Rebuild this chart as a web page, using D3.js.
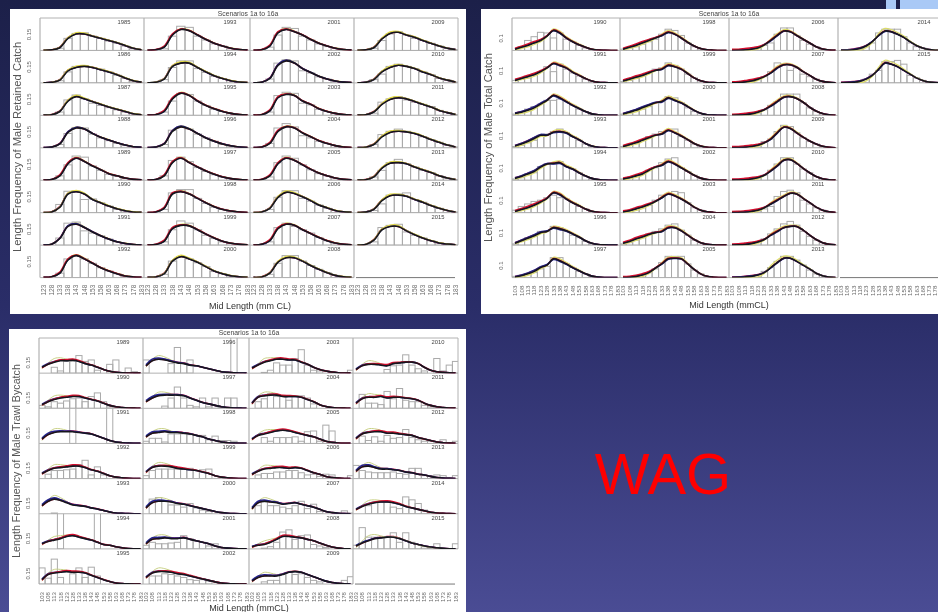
<!DOCTYPE html>
<html><head><meta charset="utf-8">
<script src="https://cdn.jsdelivr.net/npm/d3@7"></script>
<style>html,body{margin:0;padding:0;background:#1e2250;overflow:hidden}svg{display:block}text{font-family:"Liberation Sans",Arial,sans-serif}</style>
</head><body><svg id="c" width="938" height="612"></svg>
<script>
// Values are length frequencies in percent (0.15 = 15), one row per panel/year.
const retainedBins=[123,128,133,138,143,148,153,158,163,168,173,178,183];
const retainedYears=[1985,1986,1987,1988,1989,1990,1991,1992,1993,1994,1995,1996,1997,1998,1999,2000,2001,2002,2003,2004,2005,2006,2007,2008,2009,2010,2011,2012,2013,2014,2015];
const retainedBars=[
[0,0,2,11,15.5,16,13,11,8.5,6.5,4,1.5,.5],[0,0,2,10,15,15.5,14,12.5,10,7,4,1.5,.5],[0,0,3,14,18.5,15,11,9,7,5,3,1.5,.5],[0,0,3,13,18.5,18,12.5,9,6.5,4,2,1,.3],
[0,0,4,14,22,21,13,9,5.5,3.5,2,.8,.3],[0,0,7.5,19.5,19.5,12,12.5,9,6,3,1.5,.6,.2],[0,0,6.5,20,21,13,11,8.5,5.5,3,1.5,.5,.2],[0,0,4,17,20,17,13,9,6,3.5,1.5,.5,.2],
[0,0,1.5,13,22,21,13,9.5,6,4,1.5,.8,.2],[0,0,3,14,20,20,13,9.5,6,4,2,.8,.2],[0,0,3,13,20,19,13,9,5.5,3.5,1.5,.6,.2],[0,0,3,16,19,17,12.5,9,6,3,1.5,.6,.2],
[0,0,4,18,21,17,11.5,8,5,3,1.5,.6,.2],[0,0,3,18,21,21,13,8.5,5,3,1.5,.5,.2],[0,0,3,14,22,20,14,9,6,3,1.5,.6,.2],[0,0,3,15,19,17,13.5,10,5.5,3.5,1.5,.6,.2],
[0,0,3,14,21,20,13,9.5,6,3.5,2,.6,.2],[0,0,3.5,18,21,20,11,9,5.5,3.5,1.5,.6,.2],[0,0,3,18,21,20,11,9.5,5.5,3.5,1.5,.6,.2],[0,0,4,18,22,19,11,9,6,4,2,.6,.2],
[0,0,3,16,22,20,14,9.5,6,4,2,.8,.2],[0,0,3,14,20,20,13,10.5,7,4,2,.8,.2],[0,0,3,16,20,17,14,11,7,4,2,.8,.2],[0,0,3,13,20,20,15,11,7.5,4.5,2,.8,.2],
[0,0,2,9,15,17,14,11,9,6.5,4,2,.8],[0,0,3,8,15,17,15,13,10,7.5,4,2.5,.8],[0,0,2,12,15,17,14,12,10,8,4.5,2.5,.8],[0,0,3,12,15,17,15,13,10,7.5,5,2.5,.8],
[0,0,3,9,16,19,15,12,9,7,4,2,.7],[0,0,2,8,16,17,18,12,9.5,6.5,4,2,.7],[0,0,3,16,18,19,12,9,6.5,4,2,1,.4]];
const retainedFit=[
[.2,.5,2.5,11,15,15,13,11,9,7,4.5,2,.7],[.2,.5,2.5,11,14,15,14,12,10,7.5,4.5,2,.7],[.2,.6,3.5,13,17,15,12.5,10,7.5,5.5,3.5,1.5,.6],[.2,.6,3.5,14,18,17,13,9.5,7,4.5,2.5,1,.4],
[.2,.6,4,15,20,17,13,9.5,6,4,2,.8,.3],[.2,.7,5,17,19,17,12,9,6,3.5,1.8,.7,.3],[.2,.8,6,17,19,16,12,8.5,5.5,3,1.5,.6,.2],[.2,.7,4,16,20,17,13,9,6,3.5,1.5,.6,.2],
[.2,.6,3,14,19,18,14,10,6.5,4,2,.8,.3],[.2,.6,3.5,15,18,18,14,10,6.5,4,2,.8,.3],[.2,.6,3.5,15,20,18,13,9,6,3.5,1.8,.7,.3],[.2,.6,3.5,15,19,17,13,9,6,3.5,1.8,.7,.3],
[.2,.6,4,16,20,16,12,8.5,5.5,3,1.5,.6,.2],[.2,.7,4,17,19,17,13,9,5.5,3,1.5,.6,.2],[.2,.6,3.5,15,18,17.5,14,10,6.5,3.5,1.7,.7,.3],[.2,.6,3.5,15,19,17,14,10,6,3.5,1.7,.7,.3],
[.2,.6,4,16,19,17,14,10,6.5,4,2,.8,.3],[.2,.6,4,16,20,18,13,9.5,6,3.5,1.8,.7,.3],[.2,.6,4,16,19,18,13,10,6,3.5,1.8,.7,.3],[.2,.6,4,15,19,18,13.5,10,6.5,4,2,.8,.3],
[.2,.7,4,15,20,18,14,10,6.5,4,2,.8,.3],[.2,.7,4,14,18.5,17.5,14.5,11,7,4.5,2,.8,.3],[.2,.7,4,15,19,18,14,10.5,7,4,2,.8,.3],[.2,.6,4,14,18,18,15,11,7.5,4.5,2,.8,.3],
[.2,.5,2.5,10.5,15.5,16.5,14,12,9,6.5,4,2,.8],[.2,.5,3,10,14,16,15,13,10,7.5,4.5,2.5,.8],[.2,.5,3,10,14.5,16,15,12.5,10,7.5,4.5,2.5,.8],[.2,.5,3,10,14,15,14.5,13,10.5,7.5,5,2.5,.8],
[.2,.5,3,11,15.5,16,15,12,9.5,7,4,2,.7],[.2,.5,3,11,15.5,16,15,12,9.5,6.5,4,2,.7],[.2,.6,4.5,14,17,17,13,9.5,6.5,4,2,1,.4]];
const retainedAccent="yyybrybrryrbrrryrbrrryryyyyyyyy";
const retainedYellow=[0,0,.2,.6,.9,.6,.2,.3,.3,.2,.2,.1,0];
const retainedRed=[0,.1,.7,.8,.3,.1,.2,.1,.1,.1,0,0,0];
const retainedBlue=[0,0,.2,.5,.5,.2,.1,.1,0,.1,0,0,0];

const totalBins=[103,108,113,118,123,128,133,138,143,148,153,158,163,168,173,178,183];
const totalYears=[1990,1991,1992,1993,1994,1995,1996,1997,1998,1999,2000,2001,2002,2003,2004,2005,2006,2007,2008,2009,2010,2011,2012,2013,2014,2015];
const totalBars=[
[0,3,8,11,14.5,14,10,14,9,7,4,2,1,0,0,0,0],[2,3,4,7,9,13,9,15,11,8,5.5,3,1,.3,0,0,0],[1,3,5,7,9,12,12,13,11,8,5,3,1,.3,0,0,0],[1,2,4,6,10,11,13,15,12,9,6,3,1,.3,0,0,0],
[1,2,5,6,11,13,13,15,11,9,6,3,1,.3,0,0,0],[2,5,7,9,10,12,14,12,11,8,5,3,1,.3,0,0,0],[1,3,6,7,11,11,15,14,11,8,6,3,1,.3,0,0,0],[1,2,3,4,7,9,16,16,11,8,5,3,1,.3,0,0,0],
[1,2,3,5,7,9,13,17,16,12,6,3,1,.3,0,0,0],[1,2,4,6,8,11,12,16,14,11,7,4,1.5,.3,0,0,0],[1,2,4,5,7,10,11,15,14,10,6,3,1.5,.3,0,0,0],[1,2,4,6,9,11,13,14,15,9,6,3,1.5,.3,0,0,0],
[1,2,3,5,8,10,14,17,18,10,7,4,1.5,.3,0,0,0],[0,1,3,4,6,10,14,15,17,16,8,4,2,.5,0,0,0],[1,2,4,7,9,11,13,16,17,12,8,4,2,.5,0,0,0],[0,.2,.7,1.5,4,7,12,17,17,17,11,6,3,1,.2,0,0],
[0,0,.3,1,2.5,4,6,13,18,18,12,8,5,3,1,.3,0],[0,0,.5,1,3,5,9,16,15,10,12,7,5,3,1,.3,0],[0,0,.5,1,2,4.5,8,11,17,17,17,10,6,3,1,.3,0],[0,0,.3,.8,2,5,7,13,18,17,12,8,5,3,1,.3,0],
[0,0,.3,1,2,4,8,13,18,18,13,9,6,3,1,.3,0],[0,0,.3,1,1.5,3,5,13,17,18,16,10,7,4,2,.5,0],[0,0,.4,1,2,5,9,13,17,19,16,11,7,4,2,.5,0],[0,0,.4,1,2,5,8,13,17,17,14,10,6,3,1.5,.5,0],
[0,0,.5,1,3,6,14,17,17,17,11,6,3,2,.7,.2,0],[0,0,.5,1,3,7,10,17,17,18,15,6,4,2,.7,.2,0]];
const totalFit=[
[1,2.5,4,6,8,11.5,16,14,10,7,4.5,2.5,1,.3,.1,0,0],[2,3.5,5,6.5,9,12,15.5,14,12,8.5,6,3.5,1.5,.5,.2,.1,0],[1.5,2.5,4,6,9,12,16,14,11,8,5.5,3,1.2,.4,.1,0,0],[1.5,3,5,7.5,10,10,12.5,13,12,9,6.5,3.5,1.5,.5,.2,0,0],
[1.5,3,5,7,10.5,13,13.5,14,11,9,6,3.5,1.5,.5,.2,0,0],[1,2.5,4,6,8.5,11.5,16,14.5,11,8,5.5,3,1.2,.4,.1,0,0],[1.5,3.5,5.5,7.5,10,11,14,13,11.5,9,6.5,3.5,1.5,.5,.2,0,0],[.5,1.5,3,5,8,10,15,13.5,11,8,5.5,3,1.2,.4,.1,0,0],
[1,2.5,4,6,8,10,12,14.5,13,10,6.5,3.5,1.5,.5,.2,0,0],[1.5,3,4.5,6,8,10,11,14,13,11,7.5,4,1.7,.5,.2,0,0],[1,2.5,4,6,8,10,11,14,12,10,7,4,1.7,.5,.2,0,0],[1,2.5,4,6,8,10,11,14,12,9.5,6.5,3.5,1.5,.5,.2,0,0],
[1,2,3.5,5,8,10.5,12,15,13,10,7,4,1.7,.5,.2,0,0],[.6,1.5,3,4.5,6.5,9,12,15,13.5,11,8,4.5,2,.7,.2,0,0],[1.5,3,5,6.5,8.5,10,11,14,14,11.5,8,4.5,2,.7,.2,0,0],[.1,.3,.8,2,4,7.5,11,15,15.5,15,11,6.5,3,1,.3,.1,0],
[0,.1,.4,1,2,4.5,8,12,15.5,15,12,9,6,3,1.2,.4,.1],[.1,.3,.7,1.5,3,5,8,12,14.5,14.5,12.5,9,6,3,1.2,.4,.1],[.1,.2,.5,1.2,2.5,4.5,7.5,11,14.5,15,13.5,10.5,6.5,3.5,1.5,.5,.1],[.1,.2,.4,1,2,4,7,12,16.5,15.5,12,8.5,5.5,3,1.3,.4,.1],
[.1,.2,.4,1,2,4,7.5,11.5,16,16.5,13.5,9.5,6,3,1.2,.4,.1],[.1,.2,.4,1,2,4,7,10,13,15.5,15,11.5,8,4.5,2,.7,.2],[.1,.2,.5,1.2,2.5,4.5,8,11,14,15,15,12,8,4.5,2,.7,.2],[.1,.2,.5,1,2,4,8,12,15.5,15.5,13,10,7,3.5,1.5,.5,.1],
[.1,.2,.6,1.5,3.5,7,12,15.5,15,13,10.5,7,4,2,.7,.2,.1],[.1,.2,.5,1.2,3,6,11,16,15,13,10,7,4,2,.7,.2,.1]];
const totalAccent="rrbbbrbbrrbrrrrrrrrrrrryyy";
const totalYellow=[-.6,-1,-1.2,-1.2,-1,-.5,1.2,1.5,1.2,1,.8,.4,.2,0,0,0,0];
const totalRed=[.6,.6,.8,.8,.6,.2,.3,.3,.1,.1,0,0,0,0,0,0,0];
const totalBlue=[.3,.4,.5,.6,.5,.3,-.3,-.4,-.2,-.1,0,0,0,0,0,0,0];

const bycatchBins=totalBins;
const bycatchYears=[1989,1990,1991,1992,1993,1994,1995,1996,1997,1998,1999,2000,2001,2002,2003,2004,2005,2006,2007,2008,2009,2010,2011,2012,2013,2014,2015];
const bycatchBars=[
[0,0,8,3,16,16,24,16,18,4,0,12,18,0,7,2,0],[4,2,9,7,10,13,14,9,16,21,9,2,0,0,0,0,0],[0,0,0,0,0,60,0,0,0,0,0,60,0,0,0,0,0],[0,6,11,11,12,13,19,25,5,16,5,0,0,0,0,0,0],
[0,0,1,0,0,0,0,0,0,0,0,0,0,0,0,0,0],[0,0,0,60,0,0,0,0,0,60,0,0,0,0,0,0,0],[22,8,34,9,0,14,22,9,23,11,0,0,0,0,0,0,0],
[18,0,0,0,13,35,14,18,0,0,0,0,0,0,60,0,0],[0,0,0,3,14,29,14,4,2,14,2,14,2,14,14,0,0],[3,7,7,2,13,13,13,12,11,11,5,10,4,4,3,1,0],[4,11,13,13,13,13,14,14,11,12,13,0,0,0,0,0,0],
[0,20,22,17,12,12,9,14,8,5,3,0,0,0,0,0,0],[5,9,7,7,8,9,18,14,11,9,4,7,2,0,0,0,0],[0,11,11,14,13,11,9,6,5,6,4,0,0,0,0,0,0],
[0,0,1,4,14,11,11,20,32,11,4,3,0,0,0,0,4],[0,9,13,20,16,16,11,17,17,14,6,0,0,0,0,0,0],[0,0,8,3,8,8,8,9,3,16,17,3,25,17,0,0,0],[0,5,7,7,9,9,11,11,8,5,6,3,6,5,0,0,4],
[0,11,16,11,11,9,7,11,17,7,13,3,0,0,0,4,1],[0,0,1,3,9,23,26,13,18,19,6,4,2,0,0,0,0],[0,0,3,5,5,14,16,13,14,9,5,3,0,0,1,5,10],
[0,0,0,0,0,5,10,11,25,11,6,3,0,20,3,11,16],[0,19,7,7,5,23,13,27,11,9,9,4,2,0,0,0,0],[0,10,4,9,3,11,7,8,19,8,5,3,3,0,5,1,3],[18,11,9,8,8,8,9,7,6,14,14,4,4,5,4,1,4],
[0,0,11,16,16,16,9,7,23,19,14,5,1,0,0,0,0],[5,29,16,16,16,16,22,9,22,9,6,3,1,7,0,0,7]];
const bycatchFit=[
[8,12,15,17,17,17.5,16,13,11,8,5,2.5,1.2,.5,.2,.1,0],[5,9,12,14,15,16,16,14,12,10,7,4,2,1,.4,.2,.1],[6,12,15,16,16,16,15,14,13,10,7,4,2,1,.4,.2,.1],[7,11,14,15,16,17,17,15,12,10,7,4,2,1,.4,.2,.1],
[11,17,20,18,15,12,11,10,8,6.5,4.5,2.5,1,.5,.2,.1,.1],[7,10,12,14,17,18,16,14,12,9,6,5,3,1.5,.5,.2,.1],[6,13,15,16,17,16,16,15,12,9,6,3.5,1.5,.7,.3,.1,.1],
[10,17,19,18,16,14,13,11,10,8,6,4,2,1,.4,.2,.1],[9,14,17,18,18,18,17,14,11,8,6,4,2,1,.4,.2,.1],[9,14,15,16,15,15,14,13,11,9,6,4,2,1,.4,.2,.1],[9,15,17,17,16,14,13,12,11,9,7,4,2,1,.4,.2,.1],
[8,15,17,17,16,14,13,11,9,7,5,3,1.5,.7,.3,.1,.1],[7,13,14,15,14,14,15,13,11,9,7,4,2,1,.4,.2,.1],[9,15,17,17,16,14,13,11,9,7,5,3,1.5,.7,.3,.1,.1],
[7,11,15,17,19,19,18,18,15,12,8,5,3,1.5,.6,.2,.1],[7,15,17,18,18,16,16,16,15,12,9,5,2.5,1,.4,.2,.1],[6,11,13,15,17,18,17,15,13,11,9,6,3,1.5,.6,.2,.1],[6,10,13,14,15,15,14,15,14,11,8,6,3,1.5,.6,.2,.1],
[7,15,17,16,15,13,14,15,13,11,9,6,3,1.5,.6,.2,.1],[3,5,6,9,13,17,17,16,15,13,11,8,5,2.5,1,.3,.1],[4,9,11,11,11,13,16,17,16,13,10,7,4,2,1,.4,.1],
[5,10,12,12,11,10,13,14,15,15,13,8,4,2,1,.4,.1],[7,13,15,15,16,14,15,15,14,13,11,7,4,2,1,.4,.2],[7,13,15,16,16,14,14,13,12,11,8,6,4,2,1,.4,.2],[10,16,17,15,13,13,12,11,9,8,6,5,3,1.5,.7,.3,.1],
[6,10,13,15,16,16,15,13,10,8,6,4,2,1,.5,.2,.1],[4,8,11,14,15,16,16,14,11,8,6,4,2.5,1.5,.7,.3,.1]];
const bycatchAccent="rrbrbrrbbbrbbrrrrrbrbrrrbry";
const bycatchYellow=[-2,2,5,4,2,0,.5,.5,.3,.3,-.3,-.5,-.3,-.2,0,0,0];
const bycatchRed=[-.5,.2,.5,.8,1,1.2,1,.6,.3,.2,.1,0,0,0,0,0,0];
const bycatchBlue=[1,1.5,1.2,.8,.6,.5,.3,.1,0,0,0,0,0,0,0,0,0];

const charts=[
 {panel:[10,9,456,305],cols:[40,144,250,354,458],top:18,rowH:32.45,counts:[8,8,8,7],first:3.5,tickGap:7,tickSize:6.6,yellowCol:"#e3d94a",yellowW:1.4,
  bins:retainedBins,years:retainedYears,bars:retainedBars,fit:retainedFit,accent:retainedAccent,y:retainedYellow,r:retainedRed,b:retainedBlue,
  pxPer:1.1,tick:15,tickX:29,title:[248,15.5],yl:"Length Frequency of Male Retained Catch",ylPos:[21,147],ylSize:11.2,xl:"Mid Length (mm CL)",xlPos:[250,309]},
 {panel:[481,9,457,305],cols:[512,620,729,838,944],top:18,rowH:32.45,counts:[8,8,8,2],first:3,tickGap:8,tickSize:6.2,yellowCol:"#dcdc6a",yellowW:1.2,
  bins:totalBins,years:totalYears,bars:totalBars,fit:totalFit,accent:totalAccent,y:totalYellow,r:totalRed,b:totalBlue,
  pxPer:1.25,tick:10,tickX:501,title:[729,15.5],yl:"Length Frequency of Male Total Catch",ylPos:[492,147.5],ylSize:11.2,xl:"Mid Length (mmCL)",xlPos:[729,308]},
 {panel:[9,329,457,283],cols:[39,143,249,353,458],top:338,rowH:35.15,counts:[7,7,7,6],first:3,tickGap:8,tickSize:6,yellowCol:"#c9d186",yellowW:1,
  bins:bycatchBins,years:bycatchYears,bars:bycatchBars,fit:bycatchFit,accent:bycatchAccent,y:bycatchYellow,r:bycatchRed,b:bycatchBlue,
  pxPer:0.733,tick:15,tickX:28,title:[249,335],yl:"Length Frequency of Male Trawl Bycatch",ylPos:[20,461],ylSize:10.7,xl:"Mid Length (mmCL)",xlPos:[249,611]}
];

const svg=d3.select("#c");
const defs=svg.append("defs");
const grad=defs.append("linearGradient").attr("id","bg").attr("x1",0).attr("y1",0).attr("x2",0).attr("y2",1);
[[0,"#1c2049"],[.5,"#2a2d68"],[1,"#4a4c94"]].forEach(s=>grad.append("stop").attr("offset",s[0]).attr("stop-color",s[1]));
defs.append("filter").attr("id","soft").attr("x","-2%").attr("y","-2%").attr("width","104%").attr("height","104%")
  .append("feGaussianBlur").attr("stdDeviation",0.6);
svg.append("rect").attr("width",938).attr("height",612).attr("fill","url(#bg)");
svg.append("rect").attr("x",886).attr("y",0).attr("width",10).attr("height",9).attr("fill","#a9c9f6");
svg.append("rect").attr("x",900).attr("y",0).attr("width",38).attr("height",9).attr("fill","#a9c9f6");

charts.forEach((ch,ci)=>{
  const [px,py,pw,ph]=ch.panel;
  svg.append("rect").attr("x",px).attr("y",py).attr("width",pw).attr("height",ph).attr("fill","#fff");
  const clipId=`sheet${ci}`;
  defs.append("clipPath").attr("id",clipId).append("rect").attr("x",px).attr("y",py).attr("width",pw).attr("height",ph);
  const outer=svg.append("g").attr("clip-path",`url(#${clipId})`);
  const g=outer.append("g").attr("filter","url(#soft)");
  const n=ch.bins.length;
  const nRows=d3.max(ch.counts);
  const bottom=ch.top+nRows*ch.rowH;
  const yMax=ch.rowH/ch.pxPer;
  const grey="#b2b2b2";
  let idx=0;
  const line=d3.line().curve(d3.curveCatmullRom.alpha(.5));
  ch.cols.slice(0,-1).forEach((cx,c)=>{
    const cw=ch.cols[c+1]-cx;
    const step=(cw-ch.first-2.5)/(n-1);
    const x=d3.scalePoint().domain(ch.bins).range([cx+ch.first,cx+ch.first+step*(n-1)]);
    // only labels that lie on the page (the sheet runs off the right edge, as in the reference)
    const shown=ch.bins.filter(b=>x(b)<=936);
    const ax=g.append("g").attr("transform",`translate(0,${bottom+ch.tickGap})`).call(d3.axisBottom(x).tickValues(shown).tickSize(0));
    ax.select(".domain").remove();
    ax.selectAll("text").attr("x",0).attr("y",0).attr("dy",null).attr("transform","rotate(-90)")
      .attr("text-anchor","end").attr("dominant-baseline","middle")
      .attr("font-size",ch.tickSize).attr("fill","#6a6a6a").attr("font-family","Liberation Sans");
    g.append("line").attr("x1",cx).attr("x2",cx).attr("y1",ch.top).attr("y2",bottom).attr("stroke",grey).attr("stroke-width",1.2);
    g.append("line").attr("x1",cx).attr("x2",cx+cw).attr("y1",ch.top).attr("y2",ch.top).attr("stroke",grey).attr("stroke-width",1);
    for(let r=0;r<nRows;r++){
      const top=ch.top+r*ch.rowH, base=top+ch.rowH;
      const filled=r<ch.counts[c];
      if(filled||r==nRows-1){
        g.append("line").attr("x1",cx+(filled?0:2)).attr("x2",cx+cw-(filled?0:3)).attr("y1",base).attr("y2",base)
          .attr("stroke",filled?grey:"#777").attr("stroke-width",1);
      }
      if(!filled) continue;
      const y=d3.scaleLinear().domain([0,yMax]).range([base,top]);
      const pid=`cp${ci}_${idx}`;
      defs.append("clipPath").attr("id",pid).append("rect").attr("x",cx).attr("y",top).attr("width",cw).attr("height",ch.rowH);
      const pn=g.append("g").attr("clip-path",`url(#${pid})`);
      pn.selectAll("rect").data(ch.bars[idx]).join("rect")
        .attr("x",(d,i)=>x(ch.bins[i])-step/2).attr("width",step)
        .attr("y",d=>y(d)).attr("height",d=>base-y(d))
        .attr("fill","none").attr("stroke","#aaa").attr("stroke-width",1);
      const fit=ch.fit[idx], acc=ch.accent[idx];
      const scen=[["y",ch.y,ch.yellowCol,ch.yellowW],["r",ch.r,"#d3102f",1.6],["b",ch.b,"#26238f",1.6]];
      scen.sort((a,b)=>(a[0]==acc)-(b[0]==acc));
      scen.forEach(([k,off,col,w])=>{
        const m=k==acc?1.4:(k=="y"?1:.7);
        pn.append("path").attr("d",line(fit.map((v,i)=>[x(ch.bins[i]),y(Math.max(0,v+off[i]*m))])))
          .attr("fill","none").attr("stroke",col).attr("stroke-width",w);
      });
      pn.append("path").attr("d",line(fit.map((v,i)=>[x(ch.bins[i]),y(v)])))
        .attr("fill","none").attr("stroke","#18181f").attr("stroke-width",1.6);
      g.append("text").attr("x",cx+cw-20).attr("y",top+6).attr("text-anchor","middle").attr("font-size",5.8).attr("fill","#444").text(ch.years[idx]);
      if(c==0){
        const ay=g.append("g").attr("transform",`translate(${ch.tickX},0)`).call(d3.axisLeft(y).tickValues([ch.tick]).tickSize(0).tickFormat(d=>d/100));
        ay.select(".domain").remove();
        ay.selectAll("text").attr("x",0).attr("y",0).attr("dy",null).attr("transform","rotate(-90)")
          .attr("text-anchor","middle").attr("dominant-baseline","middle")
          .attr("font-size",6).attr("fill","#666").attr("font-family","Liberation Sans");
      }
      idx++;
    }
    if(c==ch.cols.length-2){
      g.append("line").attr("x1",cx+cw).attr("x2",cx+cw).attr("y1",ch.top).attr("y2",ch.top+ch.counts[c]*ch.rowH).attr("stroke",grey).attr("stroke-width",1);
    }
  });
  g.append("text").attr("x",ch.title[0]).attr("y",ch.title[1]).attr("text-anchor","middle").attr("font-size",6.8).attr("fill","#444").text("Scenarios 1a to 16a");
  g.append("text").attr("transform",`translate(${ch.ylPos[0]},${ch.ylPos[1]}) rotate(-90)`).attr("text-anchor","middle").attr("font-size",ch.ylSize).attr("fill","#555").text(ch.yl);
  g.append("text").attr("x",ch.xlPos[0]).attr("y",ch.xlPos[1]).attr("text-anchor","middle").attr("font-size",9).attr("fill","#333").text(ch.xl);
});
svg.append("text").attr("x",663).attr("y",494).attr("text-anchor","middle").attr("font-size",58).attr("fill","#ff0000").text("WAG");
</script></body></html>
